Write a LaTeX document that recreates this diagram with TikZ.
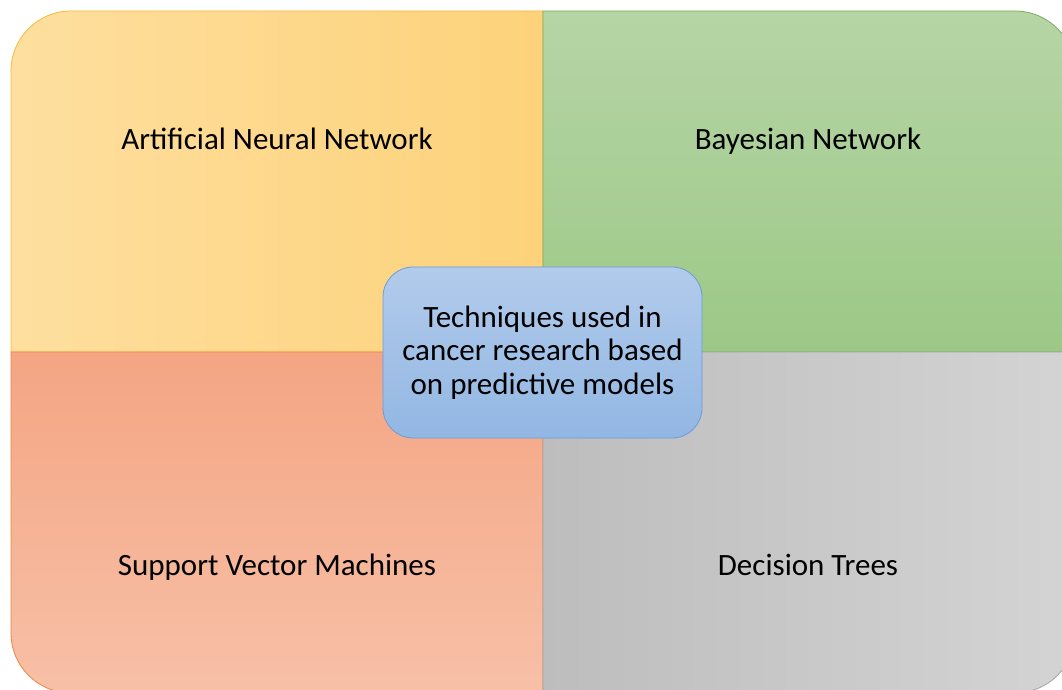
\documentclass[tikz,border=0pt]{standalone}
\usepackage{fontspec}
\setmainfont{Carlito}
\definecolor{tlA}{HTML}{FEDF9F}
\definecolor{tlB}{HTML}{FDD27A}
\definecolor{tlE}{HTML}{F7BA3A}
\definecolor{trA}{HTML}{B6D5A6}
\definecolor{trB}{HTML}{9CC886}
\definecolor{trE}{HTML}{7DAF5E}
\definecolor{blA}{HTML}{F4A583}
\definecolor{blB}{HTML}{F7C0A7}
\definecolor{blE}{HTML}{EE8442}
\definecolor{brA}{HTML}{BDBDBD}
\definecolor{brB}{HTML}{D4D4D4}
\definecolor{brE}{HTML}{A5A5A5}
\definecolor{ctA}{HTML}{B2CBEB}
\definecolor{ctB}{HTML}{92B7E3}
\definecolor{ctE}{HTML}{6E9BD5}
\tikzset{
  quadlabel/.style={font=\fontsize{31}{37}\selectfont, text=black, anchor=base, inner sep=0pt},
  centerbox/.style={draw=ctE, line width=0.8pt, rounded corners=30pt, top color=ctA, bottom color=ctB,
    minimum width=319pt, minimum height=171pt, align=center, inner sep=0pt,
    font=\fontsize{31}{33.5}\selectfont}
}
\begin{document}
\begin{tikzpicture}[x=1pt,y=1pt]
\useasboundingbox (0,0) rectangle (1062,689);
\begin{scope}
\clip (0,0) rectangle (1062,689);
% top-left
\path[draw=tlE, line width=0.8pt, left color=tlA, right color=tlB]
  (543,337) -- (11,337) -- (11,618) arc[start angle=180, end angle=90, radius=60] -- (543,678) -- cycle;
% top-right
\path[draw=trE, line width=0.8pt, top color=trA, bottom color=trB]
  (543,337) -- (543,678) -- (1015,678) arc[start angle=90, end angle=0, radius=60] -- (1075,337) -- cycle;
% bottom-left
\path[draw=blE, line width=0.8pt, top color=blA, bottom color=blB]
  (543,337) -- (11,337) -- (11,56) arc[start angle=180, end angle=270, radius=60] -- (543,-4) -- cycle;
% bottom-right
\path[draw=brE, line width=0.8pt, left color=brA, right color=brB]
  (543,337) -- (543,-4) -- (1015,-4) arc[start angle=270, end angle=360, radius=60] -- (1075,337) -- cycle;
\end{scope}
\node[quadlabel] (ann) at (277,539) {Artificial Neural Network};
\node[quadlabel] (bn) at (808,539) {Bayesian Network};
\node[quadlabel] (svm) at (277,114) {Support Vector Machines};
\node[quadlabel] (dt) at (808,114) {Decision Trees};
\node[centerbox] (center) at (542.5,336.5) {Techniques used in\\cancer research based\\on predictive models};
\end{tikzpicture}
\end{document}
